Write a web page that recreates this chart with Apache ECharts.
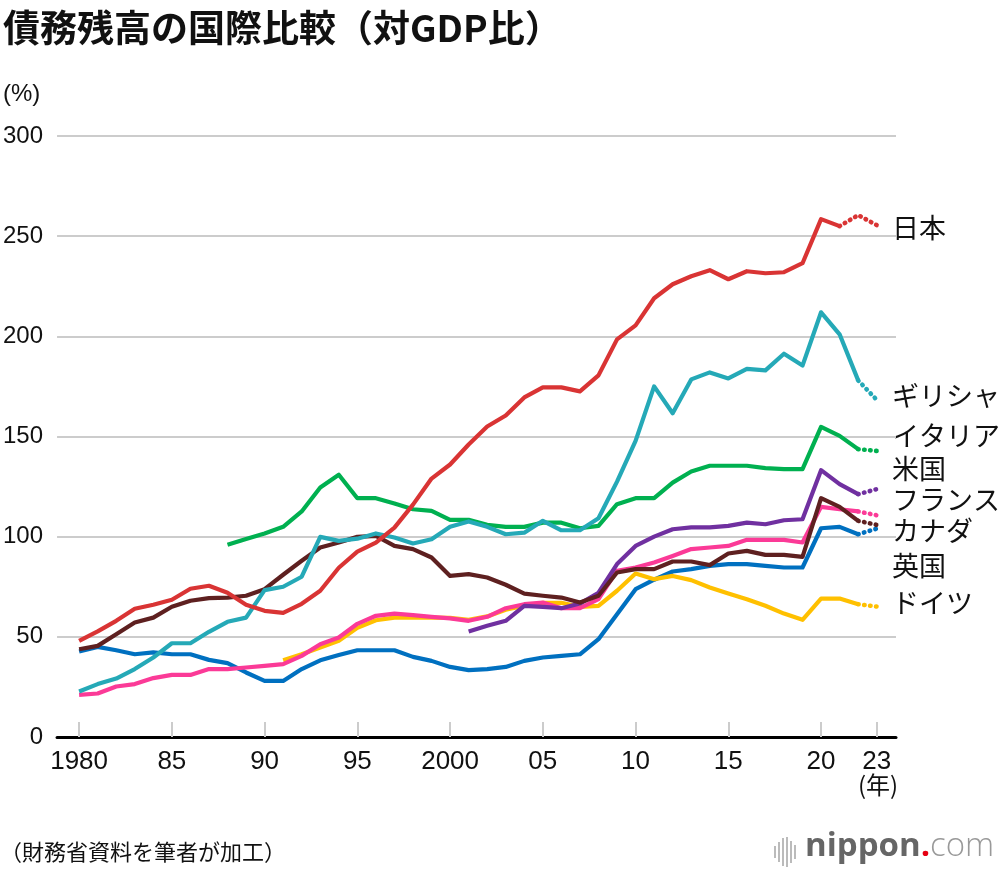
<!DOCTYPE html>
<html>
<head>
<meta charset="utf-8">
<script src="https://cdn.jsdelivr.net/npm/echarts@6/dist/echarts.min.js"></script>
<style>
html,body{margin:0;padding:0;background:#fff;}
#c{width:1000px;height:874px;}
</style>
</head>
<body>
<div id="c"></div>
<script>
const years = [];
for (let y = 1980; y <= 2023; y++) years.push(y);

const japan = [48,52.7,58,64,66,68.5,74,75.5,72,66,63,62,66.5,73,84.5,92.5,97,104.5,116,129,136,146,155,160.5,169.5,174.5,174.5,172.5,180.5,198.5,205.5,219,226,230,233,228.5,232.5,231.5,232,236.5,258.5,255,260.5,255.5];
const greece = [22.7,26.4,29.2,33.9,39.7,46.8,46.8,52.5,57.5,59.6,73.3,75,80,99.9,97.9,99,101.6,99.6,96.6,98.7,105,107.6,104.9,101.2,102,107.9,103.2,103.2,109.2,127.5,147.8,175,161.6,178.5,182,179,183.8,183,191.3,185.4,212,201,178,168.3];
const italy = [null,null,null,null,null,null,null,null,96,98.8,101.6,104.9,112.6,124.5,130.9,119.2,119.2,116.6,113.7,112.9,108.4,108.4,105.9,104.9,104.9,107,107,104.2,105.4,116.2,119.2,119.2,127,132.5,135.4,135.4,135.4,134.2,133.7,133.7,154.8,150.3,143.7,142.8];
const usa = [null,null,null,null,null,null,null,null,null,null,null,null,null,null,null,null,null,null,null,null,null,52.7,55.5,58,65.5,65,64.3,66.6,72,86.3,95.4,100,103.7,104.6,104.6,105.4,107,106.2,108.2,108.7,133.2,126.2,121.2,123.7];
const france = [21,21.7,25.2,26.4,29.4,31,31,33.9,33.9,34.7,35.5,36.4,40.5,46.3,49.7,56.5,60.5,61.6,60.8,60,59.2,58,60,64.3,66.3,67.1,64.3,64.3,68.8,83,84.6,87.1,90.4,93.8,94.6,95.4,98.4,98.4,98.4,97.1,114.9,113.7,112.6,110.7];
const canada = [43.8,45.5,51.3,57.2,59.6,65,68,69.3,69.6,70.5,73.8,81,88,94.6,97.1,99.9,100.4,95.4,93.8,89.6,80.4,81.3,79.6,76,71.6,70.5,69.6,67.1,70.5,82.1,83.8,83.8,87.6,87.6,85.8,91.6,92.9,90.9,90.9,89.9,119.2,114.9,107.9,105.9];
const uk = [42.7,45,43.3,41.3,42.2,41.3,41.3,38.5,36.9,32.2,28,28,33.9,38.3,40.9,43.3,43.3,43.3,40,38,35,33.4,33.9,35,38,39.7,40.5,41.3,48.8,61.3,73.8,78.5,82.6,83.8,85.4,86.3,86.3,85.4,84.6,84.6,104.2,104.9,101.2,104];
const germany = [null,null,null,null,null,null,null,null,null,null,null,38.3,41.3,44.7,48,54.5,58.3,59.6,59.6,59.6,59.5,58.5,60.2,63.5,65.5,67,67,65,65.5,73,81.6,78.8,80.4,78.3,74.6,71.6,68.8,65.5,61.6,58.5,69.1,69.1,66.3,65.1];

const xTickValues = [1980,1985,1990,1995,2000,2005,2010,2015,2020,2023];
const yTicks = [0,50,100,150,200,250,300];

const countries = [
  {name:'英国', data: uk, color:'#0070c0', est:2022},
  {name:'ドイツ', data: germany, color:'#ffc000', est:2022},
  {name:'フランス', data: france, color:'#fb3a97', est:2022},
  {name:'米国', data: usa, color:'#7030a0', est:2022},
  {name:'カナダ', data: canada, color:'#5e2020', est:2022},
  {name:'イタリア', data: italy, color:'#00b050', est:2022},
  {name:'ギリシャ', data: greece, color:'#25a9b7', est:2022},
  {name:'日本', data: japan, color:'#d93434', est:2021}
];

const labelPos = [
  {t:'日本', y:232},
  {t:'ギリシャ', y:400},
  {t:'イタリア', y:440},
  {t:'米国', y:473},
  {t:'フランス', y:504},
  {t:'カナダ', y:535},
  {t:'英国', y:570},
  {t:'ドイツ', y:607}
];

const series = [];
countries.forEach(c => {
  const solid = [], dotted = [];
  years.forEach((y, i) => {
    const v = c.data[i];
    if (v == null) return;
    if (y <= c.est) solid.push([y, v]);
    if (y >= c.est) dotted.push([y, v]);
  });
  series.push({type:'line', name:c.name, data:solid, showSymbol:false, silent:true,
    lineStyle:{color:c.color, width:4.2, join:'round'}, z:2});
  series.push({type:'line', name:c.name+'_est', data:dotted, showSymbol:false, silent:true,
    lineStyle:{color:c.color, width:4.6, type:[0.5,5.5], cap:'round'}, z:2});
});

const graphics = [
  {type:'text', left:3, top:9, style:{text:'債務残高の国際比較（対GDP比）', font:'bold 37px "Noto Sans CJK JP"', fill:'#111'}},
  {type:'text', left:3, top:82, style:{text:'(%)', font:'24px "Liberation Sans"', fill:'#111'}},
  {type:'text', left:858, top:773, style:{text:'(年)', font:'24px "Noto Sans CJK JP"', fill:'#111'}},
  {type:'text', left:0, top:841, style:{text:'（財務省資料を筆者が加工）', font:'22px "Noto Sans CJK JP"', fill:'#111'}},
  {type:'text', left:805, top:830, style:{
    text:'{a|nippon}{b|.}{c|com}',
    rich:{
      a:{font:'bold 33px "Open Sans"', fill:'#666'},
      b:{font:'bold 33px "Open Sans"', fill:'#e60012'},
      c:{font:'300 33px "Open Sans"', fill:'#999'}
    }
  }}
];
// logo bars
const barH = [12,20,28,30,22,14];
barH.forEach((h, i) => {
  graphics.push({type:'rect', shape:{x:774 + i*4, y:852 - h/2, width:2, height:h}, style:{fill:'#bbb'}});
});
labelPos.forEach(l => {
  graphics.push({type:'text', left:892, top:l.y - 18, style:{text:l.t, font:'27px "Noto Sans CJK JP"', fill:'#111'}});
});

const chart = echarts.init(document.getElementById('c'));
chart.setOption({
  animation:false,
  backgroundColor:'#fff',
  grid:{left:57, right:104, top:136, bottom:137, containLabel:false},
  xAxis:{
    type:'value', min:1978.81, max:2024.04,
    axisLine:{show:true, lineStyle:{color:'#000', width:3}},
    axisTick:{show:true, inside:true, length:15, customValues:xTickValues, lineStyle:{color:'#ccc', width:2}},
    axisLabel:{show:true, customValues:xTickValues, margin:12,
      fontFamily:'"Liberation Sans Narrow","Liberation Sans"', fontSize:26, color:'#111',
      formatter: v => (v === 1980 || v === 2000) ? String(v) : String(v).slice(2)},
    splitLine:{show:false}
  },
  yAxis:{
    type:'value', min:0, max:300, interval:50,
    axisLine:{show:false}, axisTick:{show:false},
    axisLabel:{margin:14, fontFamily:'"Liberation Sans"', fontSize:24, color:'#111',
      formatter: v => yTicks.includes(v) ? String(v) : ''},
    splitLine:{lineStyle:{color:'#cccccc', width:2}}
  },
  series: series,
  graphic: graphics
});
</script>
</body>
</html>
